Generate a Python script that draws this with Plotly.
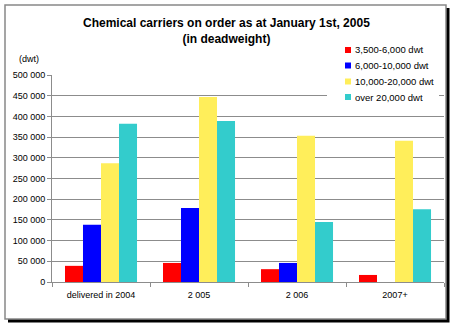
import plotly.graph_objects as go

categories = ["delivered in 2004", "2 005", "2 006", "2007+"]
series_names = ["3,500-6,000 dwt", "6,000-10,000 dwt", "10,000-20,000 dwt", "over 20,000 dwt"]
s_3500_6000 = [39000, 46000, 31000, 17000]
s_6000_10000 = [138000, 179000, 46000, 0]
s_10000_20000 = [287000, 447000, 353000, 341000]
s_over_20000 = [382000, 389000, 145000, 176000]
colors = ["#FF0000", "#0000FF", "#FFEE5A", "#33CCCC"]
y_tickvals = [0, 50000, 100000, 150000, 200000, 250000, 300000, 350000, 400000, 450000, 500000]

W, H = 454, 326
L, R, T, B = 52, 10, 75, 44
PW, PH = W - L - R, H - T - B

def px(x):
    return (x - L) / PW

def py(y):
    return (H - B - y) / PH

FONT = "Arial, Liberation Sans, sans-serif"

fig = go.Figure()
for name, vals, col in zip(series_names, [s_3500_6000, s_6000_10000, s_10000_20000, s_over_20000], colors):
    fig.add_trace(go.Bar(x=categories, y=vals, name=name, marker=dict(color=col, line=dict(width=0))))

fig.update_layout(
    width=W, height=H,
    margin=dict(l=L, r=R, t=T, b=B, pad=0),
    paper_bgcolor="white",
    plot_bgcolor="rgba(0,0,0,0)",
    barmode="group",
    bargap=0.265,
    bargroupgap=0,
    separators=". ",
    font=dict(family=FONT, size=9, color="black"),
    showlegend=False,
)

fig.update_yaxes(
    range=[0, 500000], tickvals=y_tickvals, tickformat=",d",
    showgrid=True, gridcolor="#8C8C8C", gridwidth=1,
    showline=True, linecolor="#8C8C8C", linewidth=1,
    ticks="outside", ticklen=4, tickcolor="#8C8C8C",
    zeroline=False, tickfont=dict(family=FONT, size=9),
)
fig.update_xaxes(
    showline=True, linecolor="#8C8C8C", linewidth=1,
    ticks="outside", ticklen=4, tickcolor="#8C8C8C", tickson="boundaries",
    showgrid=False, tickfont=dict(family=FONT, size=9), ticklabelstandoff=4,
)

# chart frame with shadow
fig.add_shape(type="rect", xref="paper", yref="paper",
              x0=px(8), x1=px(449.5), y0=py(322.5), y1=py(8),
              fillcolor="black", line=dict(width=0), layer="below")
fig.add_shape(type="rect", xref="paper", yref="paper",
              x0=px(5), x1=px(446), y0=py(319), y1=py(5),
              fillcolor="white", line=dict(color="#888888", width=1.5), layer="below")

# title
fig.add_annotation(text="<b>Chemical carriers on order as at January 1st, 2005<br>(in deadweight)</b>",
                   xref="paper", yref="paper", x=px(226), y=py(14),
                   xanchor="center", yanchor="top", showarrow=False, align="center",
                   font=dict(family=FONT, size=12, color="black"))

fig.add_annotation(text="(dwt)", xref="paper", yref="paper", x=px(28.5), y=py(59),
                   xanchor="center", yanchor="middle", showarrow=False,
                   font=dict(family=FONT, size=9, color="black"))

# legend (white box over the gridlines, small colour keys, labels)
fig.add_shape(type="rect", xref="paper", yref="paper",
              x0=px(327), x1=px(439), y0=py(106), y1=py(41),
              fillcolor="white", line=dict(width=0), layer="above")
leg_y = [50, 65.5, 81.5, 97]
for name, col, yy in zip(series_names, colors, leg_y):
    fig.add_shape(type="rect", xref="paper", yref="paper",
                  x0=px(345), x1=px(351), y0=py(yy + 3), y1=py(yy - 3),
                  fillcolor=col, line=dict(width=0), layer="above")
    fig.add_annotation(text=name, xref="paper", yref="paper", x=px(353), y=py(yy),
                       xanchor="left", yanchor="middle", showarrow=False,
                       font=dict(family=FONT, size=9.5, color="black"))

fig.write_html("out.html")
